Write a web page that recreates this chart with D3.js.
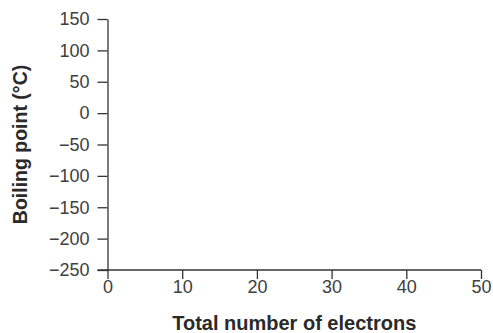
<!DOCTYPE html>
<html>
<head>
<meta charset="utf-8">
<script src="https://cdn.jsdelivr.net/npm/d3@7"></script>
<style>
  body { margin: 0; background: #fff; }
  text { font-family: "Liberation Sans", Arial, sans-serif; }
</style>
</head>
<body>
<div id="chart"></div>
<script>
// axis ranges and tick labels
const xDomain = [0, 50];
const yDomain = [-250, 150];
const xTicks = [0, 10, 20, 30, 40, 50];
const yTicks = [-250, -200, -150, -100, -50, 0, 50, 100, 150];
const xLabel = "Total number of electrons";
const yLabel = "Boiling point (°C)";

var margin = { top: 19, right: 12, bottom: 63, left: 107.5 };
var width = 493 - margin.left - margin.right;
var height = 333 - margin.top - margin.bottom;

var svg = d3.select("#chart")
  .append("svg")
    .attr("width", 493)
    .attr("height", 333)
  .append("g")
    .attr("transform", `translate(${margin.left},${margin.top})`);

var x = d3.scaleLinear().domain(xDomain).range([0, width]);
var y = d3.scaleLinear().domain(yDomain).range([height, 0]);

// x axis
var gx = svg.append("g")
    .attr("transform", `translate(0,${height})`)
    .call(d3.axisBottom(x).tickValues(xTicks).tickSize(9).tickPadding(1).tickSizeOuter(0));

// y axis
var gy = svg.append("g")
    .call(d3.axisLeft(y).tickValues(yTicks).tickSize(10).tickPadding(8).tickSizeOuter(0)
      .tickFormat(d => d < 0 ? "\u2212" + Math.abs(d) : d));

[gx, gy].forEach(g => {
  g.select(".domain").attr("stroke", "#333").attr("stroke-width", 1.3);
  g.selectAll(".tick line").attr("stroke", "#333").attr("stroke-width", 1.3);
  g.selectAll(".tick text").attr("fill", "#404040").style("font-size", "18px");
});
// extend x axis line a bit left of the y axis, like the reference
gx.select(".domain").attr("d", `M-10,0H${width}`);

// axis titles
svg.append("text")
    .attr("x", width / 2)
    .attr("y", height + 60)
    .attr("text-anchor", "middle")
    .attr("fill", "#2a2a2a")
    .style("font-size", "20px")
    .style("font-weight", "bold")
    .text(xLabel);

svg.append("text")
    .attr("transform", `translate(${27 - margin.left},${height / 2}) rotate(-90)`)
    .attr("text-anchor", "middle")
    .attr("fill", "#2a2a2a")
    .style("font-size", "19.5px")
    .style("font-weight", "bold")
    .text(yLabel);
</script>
</body>
</html>
